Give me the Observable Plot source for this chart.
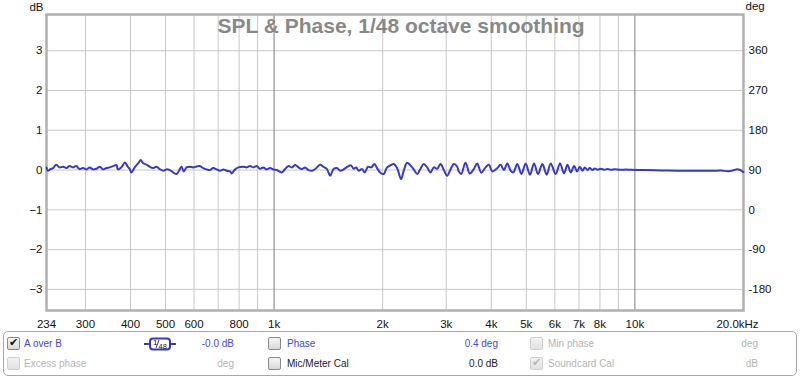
<!DOCTYPE html>
<html>
<head>
<meta charset="utf-8">
<script src="https://cdn.jsdelivr.net/npm/d3@7"></script>
<script src="https://cdn.jsdelivr.net/npm/@observablehq/plot@0.6"></script>
<style>
  html, body { margin: 0; padding: 0; background: #fff; width: 800px; height: 377px; overflow: hidden; }
  #chart { position: absolute; left: 0; top: 0; }
  .t { position: absolute; font-family: "Liberation Sans", Arial, sans-serif; font-size: 10px; line-height: 12px; white-space: nowrap; }
  .blue { color: #4848c8; }
  .dis { color: #b4b4b4; }
  .blk { color: #222; }
  .r { text-align: right; width: 90px; }
  .cb { position: absolute; width: 11px; height: 11px; border: 1px solid #8a8a8a; border-radius: 2px; background: linear-gradient(#f6f6f6, #d8d8d8); }
  .cb.off { border-color: #cfcfcf; background: linear-gradient(#f2f2f2, #e2e2e2); }
  .cb span { position: absolute; left: 1px; top: -2px; font-family: "DejaVu Sans", sans-serif; font-size: 11px; color: #111; }
  .cb.off span { color: #b8b8b8; }
  #panel { position: absolute; left: 3px; top: 331px; width: 792px; height: 43px; border: 1px solid #a8a8a8; border-radius: 5px; }
</style>
</head>
<body>
<div id="chart"></div>
<div id="panel"></div>
<div id="legend"></div>
<script>
// ---- data ----
const freqs = [234,236,240,244,249,254,260,266,271,277,283,289,295,302,308,315,322,329,336,343,350,358,366,369,377,386,392,398,402,411,420,427,433,443,452,462,472,482,493,503,514,525,537,548,554,562,572,584,597,610,623,636,650,664,678,693,708,723,739,755,763,779,796,822,840,858,876,895,914,934,954,
  975,996,1017,1050,1073,1096,1120,1144,1168,1194,1219,1245,1273,1300,1342,1370,1401,1431,1461,1493,1525,1558,1598,1634,1661,1690,1715,1752,1782,1821,1860,1896,1929,1970,2012,2057,2100,2145,2192,2249,2287,2337,2387,2438,2492,2545,2599,2657,2713,2771,2832,2893,2955,3019,3083,3149,3218,3251,3301,3393,3487,3577,3656,3751,3856,3939,4025,4138,4245,4335,4430,4525,
  4603,4722,4846,4981,5120,5252,5388,5541,5695,5843,6033,6201,6362,6503,6642,6784,6916,7036,7158,7265,7391,7499,7630,7743,7878,8050,8215,8400,8577,8800,9145,9450,9747,10612,11807,13142,14610,16259,17337,18092,18680,19287,20000];
const dbValues = [0.067,-0.017,0.025,0.05,0.134,0.067,0.084,0.05,0.10,0.067,0.10,0.025,0.05,0.017,0.067,0.017,0.034,0.084,0.017,0.05,0.067,0.10,0.126,0.017,0.067,0.19,0.10,0.025,-0.06,0.067,0.17,0.25,0.18,0.134,0.084,0.05,0.084,0.025,-0.017,0.017,0,-0.06,-0.10,0.025,0.084,-0.034,0.067,0.084,0.067,0.09,0.10,0.05,0.017,0,0.05,0.017,-0.017,0.017,-0.017,-0.034,-0.084,0.017,0.067,0.084,0.067,0.10,0.067,0.10,0.034,0.067,0.017,
  0.05,0.017,0,-0.06,0.025,0.10,0.067,0.126,0.067,0.025,0.067,0,-0.017,0.025,0.134,0.084,0.025,-0.142,0.025,0.05,-0.017,0.017,0.084,0.117,0.034,0.067,-0.017,0.025,-0.06,0.084,0.067,0.15,0.05,-0.067,-0.10,0.067,0.117,0.15,0.05,-0.226,-0.017,0.184,0.117,0.017,-0.10,0.034,0.15,0.067,-0.06,0.067,0.034,0.15,0,-0.142,0.017,0.15,0.084,-0.034,-0.10,0.184,-0.084,0.025,0.167,-0.067,0.067,0.134,-0.034,0.034,0.134,0,0.167,-0.017,
  -0.06,0.15,-0.10,0.167,-0.117,0.167,-0.10,0.15,-0.117,0.167,-0.10,0.167,-0.084,0.134,-0.06,0.10,-0.034,0.084,-0.017,0.067,0,0.05,0,0.042,0.01,0.03,0.01,0.025,0.01,0.02,0.005,0.015,0.005,0,-0.01,-0.017,-0.017,-0.02,-0.01,-0.03,-0.01,0.02,-0.05];
const xTicks = [234,300,400,500,600,800,1000,2000,3000,4000,5000,6000,7000,8000,10000,20000];
const xTickLabels = ["234","300","400","500","600","800","1k","2k","3k","4k","5k","6k","7k","8k","10k","20.0kHz"];
const xGridMinor = [300,400,500,600,700,800,900,2000,3000,4000,5000,6000,7000,8000,9000];
const xGridMajor = [1000,10000];
const yTicks = [-3,-2,-1,0,1,2,3];
const titleText = "SPL & Phase, 1/48 octave smoothing";

const data = freqs.map((f, i) => ({f, db: dbValues[i]}));
const labelMap = new Map(xTicks.map((t, i) => [t, xTickLabels[i]]));
const lastTick = xTicks[xTicks.length - 1];

const chart = Plot.plot({
  width: 800,
  height: 330,
  marginLeft: 46,
  marginRight: 57,
  marginTop: 14,
  marginBottom: 20,
  style: { fontFamily: "'Liberation Sans', Arial, sans-serif", fontSize: "11.5px", color: "#111", background: "transparent" },
  x: { type: "log", domain: [234, 20000], axis: null },
  y: { domain: [-3.53, 3.91], axis: null },
  marks: [
    Plot.ruleX(xGridMinor, { stroke: "#c8c8c8", strokeWidth: 1 }),
    Plot.ruleY(yTicks, { stroke: "#c8c8c8", strokeWidth: 1 }),
    Plot.ruleX(xGridMajor, { stroke: "#7a7a7a", strokeWidth: 1 }),
    Plot.frame({ stroke: "#b0b0b0", strokeWidth: 2.5 }),
    Plot.text([titleText], { frameAnchor: "top", lineAnchor: "top", dx: 6, dy: 4, fontSize: 21, fontWeight: "bold", fill: "#888" }),
    Plot.text(["dB"], { frameAnchor: "top-left", textAnchor: "end", lineAnchor: "bottom", dx: -3, dy: -4, fill: "#111" }),
    Plot.text(["deg"], { frameAnchor: "top-right", textAnchor: "start", lineAnchor: "bottom", dx: 2, dy: -5, fill: "#111" }),
    Plot.axisY({ anchor: "left", ticks: yTicks, tickSize: 0, tickPadding: 4, label: null }),
    Plot.axisY({ anchor: "right", ticks: yTicks, tickFormat: d => String(90 * d + 90), tickSize: 0, tickPadding: 5, label: null }),
    Plot.text(xTicks.filter(d => d !== lastTick), { x: d => d, text: d => labelMap.get(d), frameAnchor: "bottom", lineAnchor: "top", dy: 9, fill: "#111" }),
    Plot.text([lastTick], { x: d => d, text: d => labelMap.get(d), frameAnchor: "bottom", lineAnchor: "top", dy: 9, dx: -6, fill: "#111" }),
    Plot.line(data, { x: "f", y: "db", stroke: "#3a3abf", strokeWidth: 2, curve: "catmull-rom" })
  ]
});
document.getElementById("chart").appendChild(chart);

// ---- bottom control panel ----
const legendHTML = `
  <div class="cb" style="left:7px;top:337px;"><span>✔</span></div>
  <div class="t blue" style="left:24px;top:338px;">A over B</div>
  <svg style="position:absolute;left:143px;top:337px;" width="34" height="14">
    <line x1="1" y1="7" x2="7" y2="7" stroke="#3a3ab8" stroke-width="2"/>
    <line x1="27" y1="7" x2="33" y2="7" stroke="#3a3ab8" stroke-width="2"/>
    <rect x="7" y="1.5" width="20" height="11" rx="3" fill="#fff" stroke="#3a3ab8" stroke-width="2"/>
    <text x="10" y="8" font-family="Liberation Sans, Arial" font-size="8" fill="#111">1</text>
    <line x1="13" y1="11" x2="16" y2="3" stroke="#111" stroke-width="0.8"/>
    <text x="15.5" y="11.5" font-family="Liberation Sans, Arial" font-size="7.5" fill="#111">48</text>
  </svg>
  <div class="t blue r" style="left:144px;top:338px;">-0.0 dB</div>
  <div class="cb" style="left:268px;top:337px;"></div>
  <div class="t blue" style="left:287px;top:338px;">Phase</div>
  <div class="t blue r" style="left:408px;top:338px;">0.4 deg</div>
  <div class="cb off" style="left:530px;top:337px;"></div>
  <div class="t dis" style="left:548px;top:338px;">Min phase</div>
  <div class="t dis r" style="left:668px;top:338px;">deg</div>

  <div class="cb off" style="left:7px;top:357px;"></div>
  <div class="t dis" style="left:24px;top:358px;">Excess phase</div>
  <div class="t dis r" style="left:144px;top:358px;">deg</div>
  <div class="cb" style="left:268px;top:357px;"></div>
  <div class="t blk" style="left:287px;top:358px;">Mic/Meter Cal</div>
  <div class="t blk r" style="left:408px;top:358px;">0.0 dB</div>
  <div class="cb off" style="left:530px;top:357px;"><span>✔</span></div>
  <div class="t dis" style="left:548px;top:358px;">Soundcard Cal</div>
  <div class="t dis r" style="left:668px;top:358px;">dB</div>
`;
document.getElementById("legend").innerHTML = legendHTML;
</script>
</body>
</html>
